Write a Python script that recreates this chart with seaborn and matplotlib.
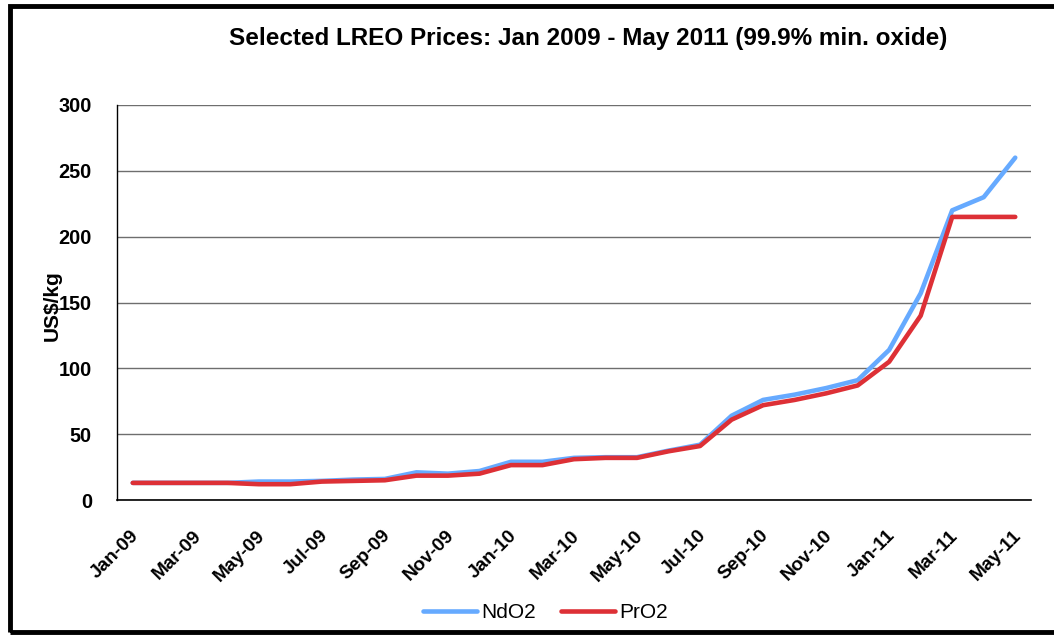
import pandas as pd
import numpy as np
import matplotlib
matplotlib.use("Agg")
import matplotlib.pyplot as plt
from matplotlib.patches import Rectangle
from matplotlib.transforms import ScaledTranslation
import seaborn as sns

# monthly prices, Jan-09 .. May-11 (US$/kg)
months = pd.date_range("2009-01-01", "2011-05-01", freq="MS")
ndo2 = [13, 13, 13, 13, 14, 14, 14.5, 15.5, 16, 21, 20, 22, 29, 29, 32,
        32.5, 32.5, 37.5, 42, 64, 76, 80, 85, 91, 114, 157, 220, 230, 260]
pro2 = [13, 13, 13, 13, 12, 12, 14, 14.5, 15, 18.5, 18.5, 20, 26.5, 26.5, 31,
        32, 32, 37, 41, 61, 72, 76, 81, 87, 105, 140, 215, 215, 215]
tick_labels = ["Jan-09", "Mar-09", "May-09", "Jul-09", "Sep-09", "Nov-09", "Jan-10",
               "Mar-10", "May-10", "Jul-10", "Sep-10", "Nov-10", "Jan-11", "Mar-11", "May-11"]
colors = {"NdO2": "#66AAFF", "PrO2": "#DD3036"}

# points sit in the middle of each month slot, ticks at month start
pos = np.arange(len(months)) + 0.5
df = pd.DataFrame({"pos": np.concatenate([pos, pos]),
                   "price": ndo2 + pro2,
                   "series": ["NdO2"] * len(ndo2) + ["PrO2"] * len(pro2)})

sns.set_style("white")
plt.rcParams["font.family"] = ["Liberation Sans", "DejaVu Sans"]
plt.rcParams["text.color"] = "black"
plt.rcParams["axes.labelcolor"] = "black"

fig = plt.figure(figsize=(10.54, 6.35), dpi=100)
ax = fig.add_axes([117 / 1054, 1 - 500 / 635, (1031 - 117) / 1054, 395 / 635])

sns.lineplot(data=df, x="pos", y="price", hue="series", palette=colors,
             linewidth=3.3, ax=ax, legend=False)

ax.set_xlim(0, len(months))
ax.set_ylim(0, 300)
ax.set_yticks(range(0, 301, 50))
ax.set_yticklabels([str(v) for v in range(0, 301, 50)], fontsize=14.3, fontweight="bold")
ax.set_xticks(range(0, len(months), 2))
ax.set_xticklabels(tick_labels, rotation=45, ha="right", va="center", rotation_mode="anchor",
                   fontsize=13.8, fontweight="bold")
ax.tick_params(axis="x", direction="out", length=5 * 0.72, color="#808080", pad=0,
               labelcolor="black")
ax.tick_params(axis="y", direction="out", length=7 * 0.72, color="#606060", pad=13,
               labelcolor="black")
shift = ScaledTranslation(0.19, -0.28, fig.dpi_scale_trans)
for lab in ax.get_xticklabels():
    lab.set_transform(lab.get_transform() + shift)

ax.set_xlabel("")
ax.set_ylabel("US$/kg", fontsize=15, fontweight="bold", color="black")
ax.yaxis.set_label_coords((62 - 117) / 914, (500 - 306) / 395)
ax.yaxis.grid(True, color="#6e6e6e", linewidth=1)
ax.set_axisbelow(True)
for s in ["top", "right"]:
    ax.spines[s].set_visible(False)
ax.spines["left"].set_color("black")
ax.spines["bottom"].set_color("black")
ax.spines["left"].set_linewidth(1)
ax.spines["bottom"].set_linewidth(1.2)

fig.text(588 / 1054, 1 - 38 / 635, "Selected LREO Prices: Jan 2009 - May 2011 (99.9% min. oxide)",
         ha="center", va="center", fontsize=17.5, fontweight="bold")

handles = [plt.Line2D([], [], color=colors[k], linewidth=3.3) for k in ["NdO2", "PrO2"]]
fig.legend(handles, ["NdO2", "PrO2"], loc="center", bbox_to_anchor=(545 / 1054, 1 - 613 / 635),
           ncol=2, frameon=False, fontsize=15, handlelength=2.6, handletextpad=0.2,
           columnspacing=1.2)

# outer frame (right side runs off the image)
fig.patches.append(Rectangle((10 / 1054, 3 / 635), 1.2, 1 - 8.5 / 635, transform=fig.transFigure,
                             fill=False, edgecolor="black", linewidth=3.5, zorder=10))

fig.savefig("out.png", dpi=100)
